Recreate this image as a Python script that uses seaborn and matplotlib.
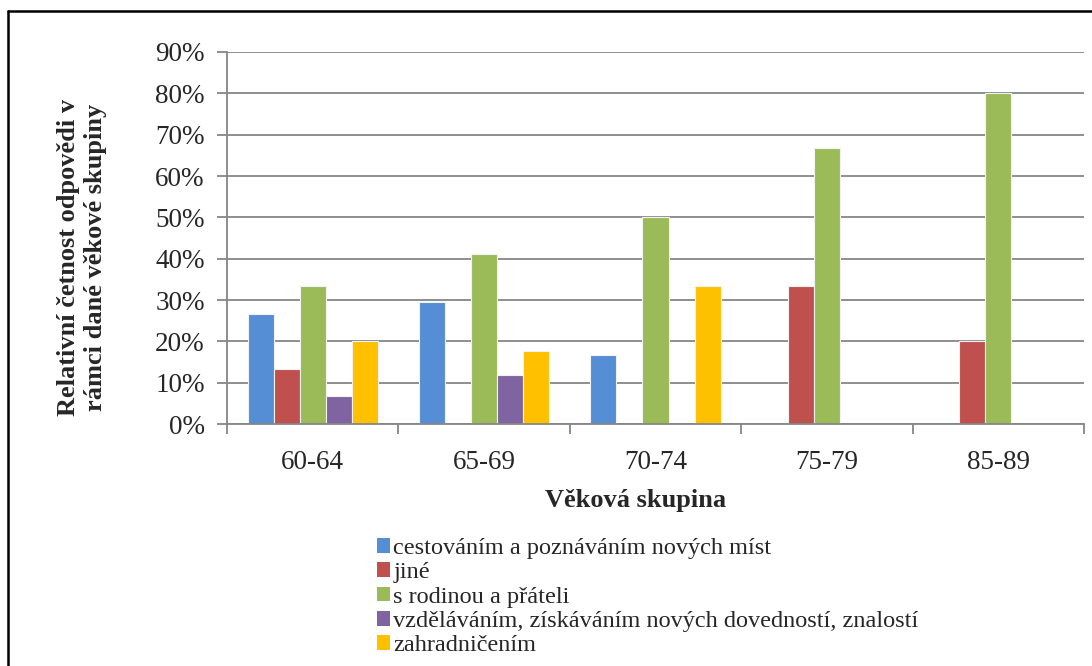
import matplotlib
matplotlib.use("Agg")
import matplotlib.pyplot as plt
from matplotlib.lines import Line2D
from matplotlib.patches import Patch
from matplotlib.ticker import FixedLocator, FuncFormatter
import numpy as np
import pandas as pd
import seaborn as sns

# Age groups on the x axis
age_groups = ["60-64", "65-69", "70-74", "75-79", "85-89"]

# Answer categories (series) and their colours
series_names = [
    "cestováním a poznáváním nových míst",
    "jiné",
    "s rodinou a přáteli",
    "vzděláváním, získáváním nových dovedností, znalostí",
    "zahradničením",
]
series_colors = ["#558ED5", "#C0504D", "#9BBB59", "#8064A2", "#FFC000"]

# Relative frequency (share of answers) per age group, one list per series
cestovanim = [0.267, 0.294, 0.167, 0.0, 0.0]
jine = [0.133, 0.0, 0.0, 0.333, 0.200]
s_rodinou = [0.333, 0.412, 0.500, 0.667, 0.800]
vzdelavanim = [0.067, 0.118, 0.0, 0.0, 0.0]
zahradnicenim = [0.200, 0.176, 0.333, 0.0, 0.0]

y_ticks = [0.0, 0.1, 0.2, 0.3, 0.4, 0.5, 0.6, 0.7, 0.8, 0.9]

values = [cestovanim, jine, s_rodinou, vzdelavanim, zahradnicenim]
rows = []
for name, vals in zip(series_names, values):
    for grp, v in zip(age_groups, vals):
        rows.append({"skupina": grp, "odpoved": name, "podil": v})
df = pd.DataFrame(rows)

sns.set_style("white")
plt.rcParams["font.family"] = ["Liberation Serif", "DejaVu Serif"]

fig = plt.figure(figsize=(10.92, 6.66), dpi=100)
ax = fig.add_axes([227 / 1092, 1 - 424 / 666, (1084 - 227) / 1092, (424 - 52) / 666])

sns.barplot(
    data=df, x="skupina", y="podil", hue="odpoved",
    order=age_groups, hue_order=series_names, palette=series_colors,
    width=0.76, gap=0, dodge=True, errorbar=None, legend=False,
    saturation=1, edgecolor="#F2F2F2", linewidth=0.8, ax=ax,
)
# zero-height bars are not drawn
for p in ax.patches:
    if p.get_height() == 0:
        p.set_visible(False)

ax.set_xlim(-0.5, len(age_groups) - 0.5)
ax.set_ylim(0, 0.9)
ax.yaxis.set_major_locator(FixedLocator(y_ticks))
ax.yaxis.set_major_formatter(FuncFormatter(lambda v, _: f"{v * 100:.0f}%"))
ax.grid(axis="y", color="#868686", linewidth=1.3)
ax.set_axisbelow(True)

# x ticks: marks at group boundaries, labels at group centres
ax.set_xticks(np.arange(-0.5, len(age_groups)), labels=[""] * (len(age_groups) + 1))
ax.set_xticks(np.arange(len(age_groups)), labels=age_groups, minor=True)
ax.tick_params(axis="x", which="major", direction="out", length=7, width=1.3,
               color="#868686", bottom=True)
ax.tick_params(axis="x", which="minor", length=0, pad=19, labelsize=19.5)
ax.tick_params(axis="y", direction="out", length=7, width=1.3, color="#868686",
               left=True, pad=9, labelsize=19.5)

for s in ["top", "right"]:
    ax.spines[s].set_visible(False)
for s in ["left", "bottom"]:
    ax.spines[s].set_color("#868686")
    ax.spines[s].set_linewidth(1.3)

ax.set_xlabel("")
ax.set_ylabel("")
fig.text(636 / 1092, 1 - 500 / 666, "Věková skupina", ha="center", va="center",
         fontsize=19, fontweight="bold")
fig.text(82 / 1092, 1 - 257 / 666,
         "Relativní četnost odpovědi v\nrámci dané věkové skupiny",
         rotation=90, ha="center", va="center", multialignment="center",
         fontsize=19, fontweight="bold", linespacing=1.2)

handles = [Patch(facecolor=c, edgecolor="none") for c in series_colors]
fig.legend(handles, series_names, loc="upper left",
           bbox_to_anchor=(377 / 1092, 1 - 538 / 666), frameon=False,
           fontsize=17.5, handlelength=0.55, handleheight=0.55, handletextpad=0.12,
           labelspacing=0.135, borderpad=0, borderaxespad=0)

# outer chart border (left and top)
fig.add_artist(Line2D([7.5 / 1092, 7.5 / 1092], [0, 1 - 11 / 666],
                      color="black", linewidth=1.8, transform=fig.transFigure))
fig.add_artist(Line2D([7.5 / 1092, 1], [1 - 11 / 666, 1 - 11 / 666],
                      color="black", linewidth=1.8, transform=fig.transFigure))

fig.savefig("out.png", dpi=100, facecolor="white")
